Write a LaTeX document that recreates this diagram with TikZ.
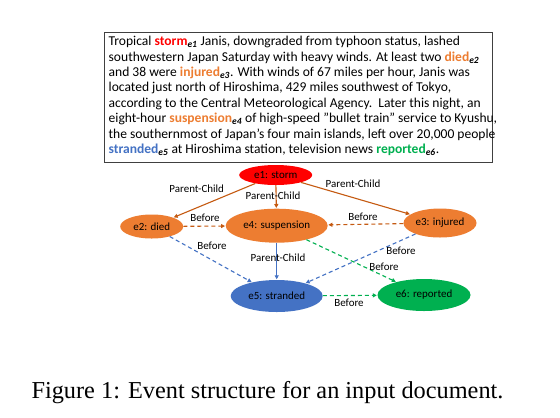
\documentclass[tikz,border=0pt]{standalone}
\usepackage{fontspec}
\setmainfont{Carlito}
\newfontfamily\capfont{Liberation Serif}
\usetikzlibrary{shapes.geometric,arrows.meta}
\definecolor{ored}{HTML}{FF0000}
\definecolor{oorange}{HTML}{ED7D31}
\definecolor{dorange}{HTML}{C55A11}
\definecolor{oblue}{HTML}{4472C4}
\definecolor{ogreen}{HTML}{00B050}
\definecolor{boxgray}{HTML}{404040}
\newcommand{\evsub}[1]{\textsubscript{\textbf{\textit{#1}}}}
\newcommand{\sq}{\char"22\relax}
\tikzset{
  ev/.style={ellipse, inner sep=0pt, font=\fontsize{11}{12}\selectfont, text=black},
  lbl/.style={font=\fontsize{11}{12}\selectfont, inner sep=1pt, text=black},
  arr/.style={-{Triangle[length=4bp,width=4bp]}, line width=1.1bp, shorten >=0.5bp},
  dsh/.style={arr, dash pattern=on 4bp off 3bp}
}
\begin{document}
\begin{tikzpicture}[x=1bp,y=-1bp]
\useasboundingbox (0,0) rectangle (560,417);
\fill[white] (0,0) rectangle (560,417);
% text box
\node[draw=boxgray, line width=0.9bp, minimum width=388bp, minimum height=130bp, anchor=north west, inner sep=0pt] (box) at (104,32) {};
\node[anchor=north west, align=left, inner sep=0pt, font=\fontsize{13.6}{15.5}\selectfont] (txt) at (108.5,36) {%
Tropical \textcolor{ored}{\textbf{storm}}\evsub{e1} Janis, downgraded from typhoon status, lashed\\
southwestern Japan Saturday with heavy winds. At least two \textcolor{oorange}{\textbf{died}}\evsub{e2}\\
and 38 were \textcolor{oorange}{\textbf{injured}}\evsub{e3}. With winds of 67 miles per hour, Janis was\\
located just north of Hiroshima, 429 miles southwest of Tokyo,\\
according to the Central Meteorological Agency.\ \ Later this night, an\\
eight-hour \textcolor{oorange}{\textbf{suspension}}\evsub{e4} of high-speed \sq bullet train\sq{} service to Kyushu,\\
the southernmost of Japan's four main islands, left over 20,000 people\\
\textcolor{oblue}{\textbf{stranded}}\evsub{e5} at Hiroshima station, television news \textcolor{ogreen}{\textbf{reported}}\evsub{e6}.};
% events
\node[ev, fill=ored, minimum width=73bp, minimum height=20bp] (e1) at (275.7,175) {e1: storm};
\node[ev, fill=oorange, minimum width=63bp, minimum height=24bp] (e2) at (151.7,226.5) {e2: died};
\node[ev, fill=oorange, minimum width=102bp, minimum height=34bp] (e4) at (276.7,225.7) {e4: suspension};
\node[ev, fill=oorange, minimum width=73bp, minimum height=29bp] (e3) at (440,223) {e3: injured};
\node[ev, fill=oblue, minimum width=92bp, minimum height=32bp] (e5) at (276.7,296) {e5: stranded};
\node[ev, fill=ogreen, minimum width=93bp, minimum height=32bp] (e6) at (424,295) {e6: reported};
% edges
\draw[arr, dorange] (e1) -- (e2);
\draw[arr, dorange] (e1) -- (e4);
\draw[arr, dorange] (e1) -- (e3);
\draw[dsh, dorange] (e2) -- (e4);
\draw[dsh, dorange] (e3) -- (e4);
\draw[dsh, oblue] (e2) -- (e5);
\draw[dsh, oblue] (e3) -- (e5);
\draw[arr, oblue, line width=1.5bp] (e4) -- (e5);
\draw[dsh, ogreen] (e4) -- (e6);
\draw[dsh, ogreen] (e5) -- (e6);
% labels
\node[lbl] (l12) at (196.7,189) {Parent-Child};
\node[lbl] (l14) at (273,196) {Parent-Child};
\node[lbl] (l13) at (353,184) {Parent-Child};
\node[lbl] (l24) at (205,218) {Before};
\node[lbl] (l34) at (363,217) {Before};
\node[lbl] (l25) at (212,246) {Before};
\node[lbl] (l35) at (401,250.7) {Before};
\node[lbl] (l46) at (384,266.7) {Before};
\node[lbl] (l45) at (278,257.7) {Parent-Child};
\node[lbl] (l56) at (349,302.7) {Before};
% caption
\node[font=\capfont\fontsize{24.4}{27}\selectfont, inner sep=0pt] (cap) at (267.5,393) {Figure 1: Event structure for an input document.};
\end{tikzpicture}
\end{document}
